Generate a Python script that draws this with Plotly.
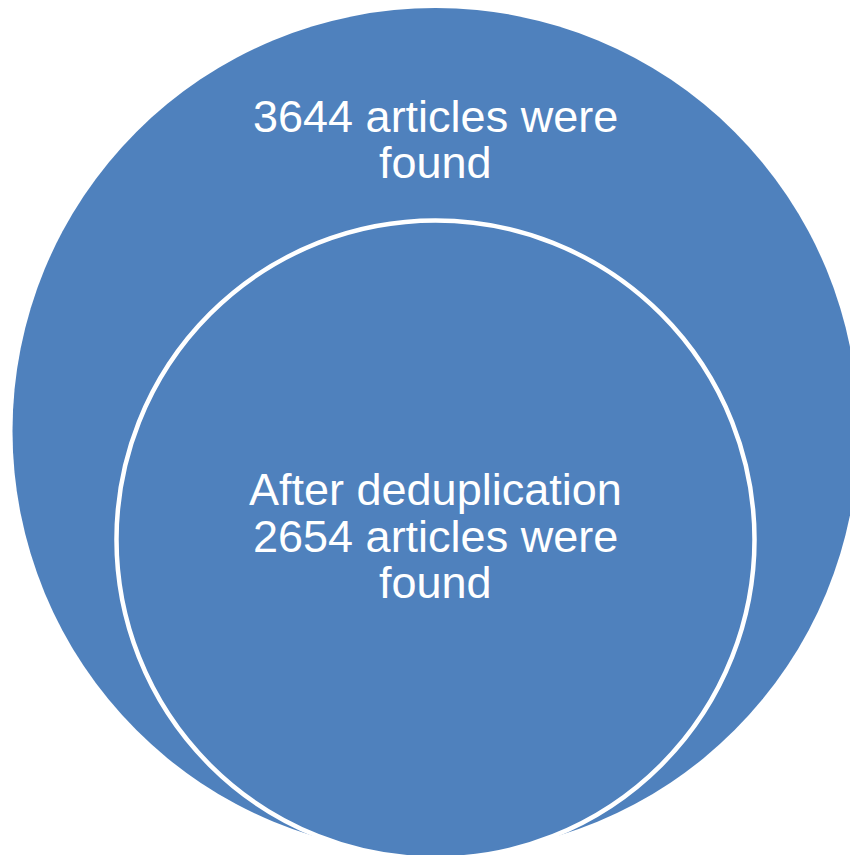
import plotly.graph_objects as go

# Data
found_total = 3644
found_dedup = 2654
outer_lines = [f"{found_total} articles were", "found"]
inner_lines = ["After deduplication", f"{found_dedup} articles were", "found"]

# Layout constants (pixel space)
W, H = 850, 855
FILL = "#4F81BD"
outer = dict(cx=435.5, cy=431, r=423)
inner = dict(cx=435.5, cy=539.5, r=319)
outer_text_y = [116.5, 162.5]
inner_text_y = [489.5, 536.0, 582.5]
TEXT_X = 435.5

fig = go.Figure()
fig.add_trace(go.Scatter(x=[0, W], y=[0, H], mode="markers",
                         marker=dict(opacity=0), hoverinfo="skip", showlegend=False))

fig.add_shape(type="circle", xref="x", yref="y",
              x0=outer["cx"] - outer["r"], x1=outer["cx"] + outer["r"],
              y0=outer["cy"] - outer["r"], y1=outer["cy"] + outer["r"],
              fillcolor=FILL, line=dict(color=FILL, width=0), layer="below")
fig.add_shape(type="circle", xref="x", yref="y",
              x0=inner["cx"] - inner["r"], x1=inner["cx"] + inner["r"],
              y0=inner["cy"] - inner["r"], y1=inner["cy"] + inner["r"],
              fillcolor=FILL, line=dict(color="white", width=4.5), layer="below")

font = dict(family="Liberation Sans, Arial, sans-serif", size=45, color="white")
for txt, y in zip(outer_lines, outer_text_y):
    fig.add_annotation(x=TEXT_X, y=y, xref="x", yref="y", text=txt, showarrow=False,
                       xanchor="center", yanchor="middle", font=font)
for txt, y in zip(inner_lines, inner_text_y):
    fig.add_annotation(x=TEXT_X, y=y, xref="x", yref="y", text=txt, showarrow=False,
                       xanchor="center", yanchor="middle", font=font)

fig.update_layout(
    width=W, height=H, margin=dict(l=0, r=0, t=0, b=0),
    paper_bgcolor="white", plot_bgcolor="white",
    xaxis=dict(range=[0, W], visible=False, fixedrange=True),
    yaxis=dict(range=[H, 0], visible=False, fixedrange=True),
    showlegend=False,
)
fig.write_html("out.html", config={"displayModeBar": False})
